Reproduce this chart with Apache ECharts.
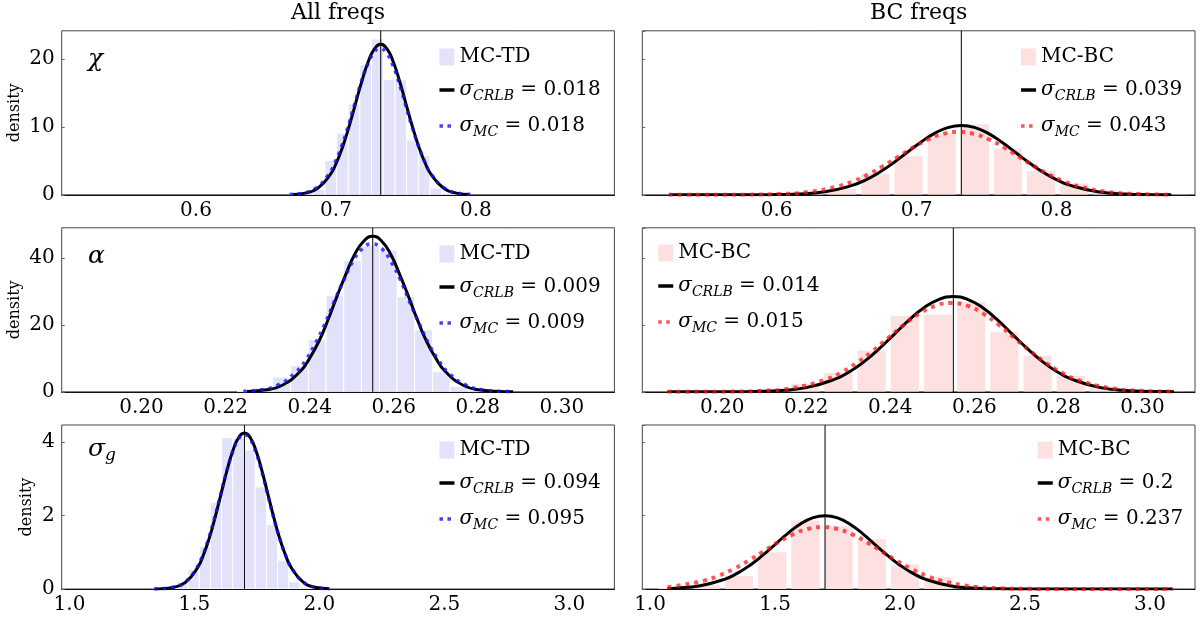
<!DOCTYPE html>
<html>
<head>
<meta charset="utf-8">
<script src="https://cdn.jsdelivr.net/npm/echarts@6/dist/echarts.min.js"></script>
<style>
  html, body { margin: 0; padding: 0; background: #fff; }
  #chart { width: 1203px; height: 617px; }
</style>
</head>
<body>
<div id="chart"></div>
<script>
// ---- values ----
const colTitles = ['All freqs', 'BC freqs'];
const rowSymbols = ['χ', 'α', 'σ_g'];
const histNames = ['MC-TD', 'MC-BC'];
const crlbLabels = [['σ_CRLB = 0.018', 'σ_CRLB = 0.039'], ['σ_CRLB = 0.009', 'σ_CRLB = 0.014'], ['σ_CRLB = 0.094', 'σ_CRLB = 0.2']];
const mcLabels = [['σ_MC = 0.018', 'σ_MC = 0.043'], ['σ_MC = 0.009', 'σ_MC = 0.015'], ['σ_MC = 0.095', 'σ_MC = 0.237']];

const rowMeans = [0.732, 0.255, 1.70];
const rowXMin = [0.504, 0.181, 0.969];
const rowXMax = [0.899, 0.3125, 3.18];
const rowYMax = [24.2, 49.1, 4.46];
const rowYStep = [10, 20, 2];

// chi, all freqs
const chiTdEdges = [0.667, 0.6754, 0.6837, 0.6921, 0.7004, 0.7088, 0.7171, 0.7255, 0.7338, 0.7422, 0.7505, 0.7589, 0.7672, 0.7756, 0.7839, 0.7923];
const chiTdDensity = [0.05, 0.3, 0.8, 5.1, 9.1, 13.4, 19.2, 23.0, 17.0, 17.0, 8.1, 5.8, 1.0, 0.2, 0.05];
const chiTdCrlb = [[0.669, 0.049], [0.678, 0.246], [0.687, 0.975], [0.696, 3.004], [0.7005, 4.802], [0.705, 7.208], [0.7095, 10.163], [0.714, 13.464], [0.7185, 16.757], [0.723, 19.592], [0.7275, 21.516], [0.732, 22.2], [0.7365, 21.516], [0.741, 19.592], [0.7455, 16.757], [0.75, 13.464], [0.7545, 10.163], [0.759, 7.208], [0.7635, 4.802], [0.768, 3.004], [0.777, 0.975], [0.786, 0.246], [0.795, 0.049]];
const chiTdMc = [[0.6668, 0.047], [0.676, 0.24], [0.6853, 0.948], [0.6945, 2.922], [0.6991, 4.672], [0.7038, 7.014], [0.7084, 9.888], [0.713, 13.1], [0.7176, 16.304], [0.7223, 19.062], [0.7269, 20.935], [0.7315, 21.6], [0.7361, 20.935], [0.7408, 19.062], [0.7454, 16.304], [0.75, 13.1], [0.7546, 9.888], [0.7593, 7.014], [0.7639, 4.672], [0.7685, 2.922], [0.7778, 0.948], [0.787, 0.24], [0.7963, 0.047]];

// chi, BC freqs
const chiBcEdges = [0.5165, 0.5402, 0.5639, 0.5876, 0.6113, 0.635, 0.6587, 0.6824, 0.7061, 0.7298, 0.7535, 0.7772, 0.8009, 0.8246, 0.8483, 0.872, 0.8957];
const chiBcDensity = [0.01, 0.02, 0.05, 0.15, 0.5, 0.9, 3.1, 5.7, 9.1, 10.4, 6.8, 3.5, 1.65, 0.6, 0.2, 0.05];
const chiBcCrlb = [[0.523, 0], [0.537, 0], [0.5565, 0.0004], [0.576, 0.0034], [0.5955, 0.022], [0.615, 0.114], [0.6345, 0.449], [0.654, 1.384], [0.6638, 2.213], [0.6735, 3.322], [0.6833, 4.683], [0.693, 6.204], [0.7028, 7.722], [0.7125, 9.028], [0.7223, 9.915], [0.732, 10.23], [0.7418, 9.915], [0.7515, 9.028], [0.7613, 7.722], [0.771, 6.204], [0.7808, 4.683], [0.7905, 3.322], [0.8003, 2.213], [0.81, 1.384], [0.8295, 0.449], [0.849, 0.114], [0.8685, 0.022], [0.882, 0.006]];
const chiBcMc = [[0.523, 0.0001], [0.5365, 0.0004], [0.558, 0.0031], [0.5795, 0.0203], [0.601, 0.103], [0.6225, 0.407], [0.644, 1.256], [0.6548, 2.007], [0.6655, 3.013], [0.6763, 4.248], [0.687, 5.628], [0.6978, 7.005], [0.7085, 8.19], [0.7193, 8.994], [0.73, 9.28], [0.7408, 8.994], [0.7515, 8.19], [0.7623, 7.005], [0.773, 5.628], [0.7838, 4.248], [0.7945, 3.013], [0.8053, 2.007], [0.816, 1.256], [0.8375, 0.407], [0.859, 0.103], [0.882, 0.018]];

// alpha, all freqs
const alphaTdEdges = [0.2228, 0.227, 0.2312, 0.2355, 0.2397, 0.2439, 0.2481, 0.2523, 0.2566, 0.2608, 0.265, 0.2692, 0.2734, 0.2777, 0.2819, 0.2861];
const alphaTdDensity = [0.2, 1.3, 4.4, 7.9, 15.6, 28.8, 39.4, 43.8, 42.5, 28.5, 18.6, 6.0, 1.6, 0.5, 0.15];
const alphaTdCrlb = [[0.225, 0.102], [0.2293, 0.517], [0.2336, 2.046], [0.2379, 6.305], [0.24, 10.08], [0.2422, 15.13], [0.2443, 21.33], [0.2464, 28.26], [0.2486, 35.17], [0.2507, 41.12], [0.2529, 45.16], [0.255, 46.6], [0.2571, 45.16], [0.2593, 41.12], [0.2614, 35.17], [0.2636, 28.26], [0.2657, 21.33], [0.2678, 15.13], [0.27, 10.08], [0.2721, 6.305], [0.2764, 2.046], [0.2807, 0.517], [0.285, 0.102], [0.2884, 0.023]];
const alphaTdMc = [[0.2242, 0.137], [0.2278, 0.492], [0.2323, 1.945], [0.2368, 5.99], [0.2391, 9.582], [0.2413, 14.38], [0.2436, 20.28], [0.2458, 26.87], [0.2481, 33.44], [0.2503, 39.09], [0.2526, 42.94], [0.2548, 44.3], [0.2571, 42.94], [0.2593, 39.09], [0.2616, 33.44], [0.2638, 26.87], [0.2661, 20.28], [0.2683, 14.38], [0.2706, 9.582], [0.2728, 5.99], [0.2773, 1.945], [0.2818, 0.492], [0.2863, 0.097], [0.2883, 0.044]];

// alpha, BC freqs
const alphaBcEdges = [0.1921, 0.2, 0.2079, 0.2158, 0.2237, 0.2316, 0.2395, 0.2474, 0.2553, 0.2632, 0.2711, 0.279, 0.2869, 0.2948, 0.3027, 0.3106];
const alphaBcDensity = [0.05, 0.2, 0.8, 2.4, 5.6, 12.4, 22.8, 23.1, 26.8, 17.8, 10.8, 4.8, 1.7, 0.5, 0.1];
const alphaBcCrlb = [[0.187, 0], [0.192, 0.0011], [0.199, 0.0095], [0.206, 0.0624], [0.213, 0.316], [0.22, 1.251], [0.227, 3.856], [0.2305, 6.165], [0.234, 9.254], [0.2375, 13.05], [0.241, 17.29], [0.2445, 21.51], [0.248, 25.15], [0.2515, 27.62], [0.255, 28.5], [0.2585, 27.62], [0.262, 25.15], [0.2655, 21.51], [0.269, 17.29], [0.2725, 13.05], [0.276, 9.254], [0.2795, 6.165], [0.283, 3.856], [0.29, 1.251], [0.297, 0.316], [0.304, 0.0624], [0.3075, 0.025]];
const alphaBcMc = [[0.187, 0.001], [0.1945, 0.0089], [0.202, 0.0583], [0.2095, 0.295], [0.217, 1.168], [0.2245, 3.599], [0.2283, 5.754], [0.232, 8.637], [0.2358, 12.18], [0.2395, 16.13], [0.2433, 20.08], [0.247, 23.47], [0.2508, 25.78], [0.2545, 26.6], [0.2583, 25.78], [0.262, 23.47], [0.2658, 20.08], [0.2695, 16.13], [0.2733, 12.18], [0.277, 8.637], [0.2808, 5.754], [0.2845, 3.599], [0.292, 1.168], [0.2995, 0.295], [0.3075, 0.05]];

// sigma_g, all freqs
const sigTdEdges = [1.34, 1.3848, 1.4296, 1.4744, 1.5192, 1.564, 1.6088, 1.6536, 1.6984, 1.7432, 1.788, 1.8328, 1.8776, 1.9224, 1.9672, 2.012];
const sigTdDensity = [0.02, 0.05, 0.2, 0.53, 1.16, 2.36, 4.12, 4.1, 3.78, 2.78, 1.75, 0.78, 0.2, 0.05, 0.02];
const sigTdCrlb = [[1.3428, 0.0031], [1.371, 0.0093], [1.418, 0.0471], [1.465, 0.1863], [1.512, 0.5742], [1.5355, 0.918], [1.559, 1.378], [1.5825, 1.943], [1.606, 2.574], [1.6295, 3.203], [1.653, 3.745], [1.6765, 4.113], [1.70, 4.244], [1.7235, 4.113], [1.747, 3.745], [1.7705, 3.203], [1.794, 2.574], [1.8175, 1.943], [1.841, 1.378], [1.8645, 0.918], [1.888, 0.5742], [1.935, 0.1863], [1.982, 0.0471], [2.038, 0.0065]];
const sigTdMc = [[1.338, 0.0031], [1.3665, 0.0092], [1.414, 0.0466], [1.4615, 0.1844], [1.509, 0.5683], [1.5328, 0.908], [1.5565, 1.364], [1.5803, 1.923], [1.604, 2.547], [1.6278, 3.17], [1.6515, 3.707], [1.6753, 4.071], [1.699, 4.2], [1.7228, 4.071], [1.7465, 3.707], [1.7703, 3.17], [1.794, 2.547], [1.8178, 1.923], [1.8415, 1.364], [1.8653, 0.908], [1.889, 0.5683], [1.9365, 0.1844], [1.984, 0.0466], [2.041, 0.0064]];

// sigma_g, BC freqs
const sigBcEdges = [1.023, 1.156, 1.289, 1.422, 1.555, 1.688, 1.821, 1.954, 2.087, 2.22, 2.353, 2.486, 2.619, 2.752, 2.885, 3.018];
const sigBcDensity = [0.03, 0.1, 0.35, 1.0, 1.86, 1.71, 1.35, 0.67, 0.32, 0.1, 0.04, 0.02, 0.01, 0.005, 0.003];
const sigBcCrlb = [[1.07, 0.014], [1.1, 0.0222], [1.2, 0.0876], [1.3, 0.27], [1.35, 0.4315], [1.4, 0.648], [1.45, 0.9133], [1.5, 1.21], [1.55, 1.506], [1.6, 1.761], [1.65, 1.934], [1.7, 1.995], [1.75, 1.934], [1.8, 1.761], [1.85, 1.506], [1.9, 1.21], [1.95, 0.9133], [2.0, 0.648], [2.05, 0.4315], [2.1, 0.27], [2.2, 0.0876], [2.3, 0.0222], [2.4, 0.0044], [2.5, 0.0007], [2.7, 0], [2.9, 0], [3.09, 0]];
const sigBcMc = [[1.07, 0.0545], [1.0975, 0.0739], [1.216, 0.2277], [1.2753, 0.364], [1.3345, 0.5465], [1.3938, 0.7705], [1.453, 1.0207], [1.5123, 1.27], [1.5715, 1.4852], [1.6308, 1.631], [1.69, 1.683], [1.7493, 1.631], [1.8085, 1.4852], [1.8678, 1.27], [1.927, 1.0207], [1.9863, 0.7705], [2.0455, 0.5465], [2.1048, 0.364], [2.164, 0.2277], [2.2825, 0.0739], [2.401, 0.0187], [2.5195, 0.0037], [2.638, 0.0006], [2.875, 0], [3.09, 0]];

// ---- layout / style ----
const SERIF = 'DejaVu Serif';
const GRID_LEFT = [61.7, 642.3];
const GRID_W = 552.7;
const GRID_TOP = [30.8, 227.8, 425];
const GRID_H = 164;
const LEGEND_POS = [[[437.7, 47], [1019.3, 47]], [[437.7, 244], [656.5, 243]], [[437.7, 440], [1036, 440]]];
const X_SPLIT = [4, 6, 4];
const X_DEC = [1, 2, 1];

const FILL = ['#e2e2fa', '#fde1e1'];
const MC_COLOR = ['rgba(20,20,255,0.8)', 'rgba(255,20,20,0.72)'];

const panels = [
  [[chiTdEdges, chiTdDensity, chiTdCrlb, chiTdMc], [chiBcEdges, chiBcDensity, chiBcCrlb, chiBcMc]],
  [[alphaTdEdges, alphaTdDensity, alphaTdCrlb, alphaTdMc], [alphaBcEdges, alphaBcDensity, alphaBcCrlb, alphaBcMc]],
  [[sigTdEdges, sigTdDensity, sigTdCrlb, sigTdMc], [sigBcEdges, sigBcDensity, sigBcCrlb, sigBcMc]]
];

function histRender(gap, edge) {
  return function (params, api) {
    const lo = api.coord([api.value(0), api.value(2)]);
    const hi = api.coord([api.value(1), 0]);
    const w = hi[0] - lo[0];
    return {
      type: 'rect',
      shape: { x: lo[0] + w * gap, y: lo[1], width: w * (1 - 2 * gap), height: hi[1] - lo[1] },
      style: { fill: api.visual('color'), stroke: edge ? '#fff' : null, lineWidth: edge ? 1 : 0 }
    };
  };
}

function legendLabel(name) {
  if (name.indexOf('σ_') === 0) {
    const rest = name.slice(2);
    const sp = rest.indexOf(' ');
    return '{g|σ}{s|' + rest.slice(0, sp) + '}{t|' + rest.slice(sp) + '}';
  }
  return '{t|' + name + '}';
}

const richText = {
  g: { fontFamily: SERIF, fontStyle: 'italic', fontSize: 20, lineHeight: 26, color: '#000' },
  s: { fontFamily: SERIF, fontStyle: 'italic', fontSize: 14, lineHeight: 16, verticalAlign: 'bottom', color: '#000' },
  t: { fontFamily: SERIF, fontSize: 20, lineHeight: 26, color: '#000' }
};

const grid = [], xAxis = [], yAxis = [], series = [], legend = [], graphic = [];

for (let r = 0; r < 3; r++) {
  for (let c = 0; c < 2; c++) {
    const p = r * 2 + c;
    const [edges, dens, crlb, mc] = panels[r][c];
    const dec = X_DEC[r];

    grid.push({
      left: GRID_LEFT[c], top: GRID_TOP[r], width: GRID_W, height: GRID_H,
      show: true, borderColor: '#444', borderWidth: 1, backgroundColor: 'transparent',
      outerBoundsMode: 'none', containLabel: false
    });

    xAxis.push({
      type: 'value', gridIndex: p, min: rowXMin[r], max: rowXMax[r], splitNumber: X_SPLIT[r],
      axisLine: { show: true, onZero: false, lineStyle: { color: '#111', width: 1.2 } },
      axisTick: { show: false },
      splitLine: { show: false },
      axisLabel: {
        show: true, margin: 6, color: '#000', fontFamily: SERIF, fontSize: 20,
        showMinLabel: false, showMaxLabel: false,
        formatter: v => v.toFixed(dec)
      }
    });

    yAxis.push({
      type: 'value', gridIndex: p, min: 0, max: rowYMax[r], interval: rowYStep[r],
      axisLine: { show: false },
      axisTick: { show: true, inside: true, length: 3, lineStyle: { color: '#666', width: 1 } },
      splitLine: { show: false },
      axisLabel: {
        show: c === 0, margin: 7, color: '#000', fontFamily: SERIF, fontSize: 20,
        showMaxLabel: false
      }
    });

    const bins = dens.map((d, i) => [edges[i], edges[i + 1], d]);
    series.push({
      type: 'custom', name: histNames[c], xAxisIndex: p, yAxisIndex: p,
      data: bins, encode: { x: [0, 1], y: 2 }, clip: true, z: 1,
      itemStyle: { color: FILL[c] },
      renderItem: histRender(c === 0 ? 0 : 0.075, c === 0)
    });

    series.push({
      type: 'line', name: 'mean', xAxisIndex: p, yAxisIndex: p, z: 2,
      data: [[rowMeans[r], 0], [rowMeans[r], rowYMax[r]]],
      symbol: 'none', silent: true,
      lineStyle: { color: '#000', width: 1 }
    });

    series.push({
      type: 'line', name: crlbLabels[r][c], xAxisIndex: p, yAxisIndex: p, z: 3,
      data: crlb, smooth: true, symbol: 'none', showSymbol: false, silent: true,
      itemStyle: { color: '#000' },
      lineStyle: { color: '#000', width: 3 }
    });

    series.push({
      type: 'line', name: mcLabels[r][c], xAxisIndex: p, yAxisIndex: p, z: 4,
      data: mc, smooth: true, symbol: 'none', showSymbol: false, silent: true,
      itemStyle: { color: MC_COLOR[c] },
      lineStyle: { color: MC_COLOR[c], width: c === 0 ? 3.5 : 4, type: c === 0 ? [3.5, 5] : [4, 5], cap: 'butt' }
    });

    const [lx, ly] = LEGEND_POS[r][c];
    legend.push({
      orient: 'vertical', left: lx, top: ly, padding: 0, itemGap: 13,
      itemWidth: 15, itemHeight: 17, selectedMode: false,
      formatter: legendLabel,
      textStyle: { fontFamily: SERIF, fontSize: 20, color: '#000', rich: richText },
      data: [
        { name: histNames[c], icon: 'rect', itemStyle: { color: FILL[c] } },
        { name: crlbLabels[r][c], itemStyle: { opacity: 0 }, lineStyle: { color: '#000', width: 3.5, type: 'solid' } },
        { name: mcLabels[r][c], itemStyle: { opacity: 0 }, lineStyle: { color: MC_COLOR[c], width: 3.5, type: [3.5, 4.5], cap: 'butt' } }
      ]
    });
  }

  // row symbol and y label
  const sym = rowSymbols[r];
  graphic.push({
    type: 'text', x: 88, y: GRID_TOP[r] + (r === 2 ? 24 : 28.7),
    style: {
      text: sym.indexOf('_') > 0 ? '{a|σ}{b|g}' : '{a|' + sym + '}',
      rich: {
        a: { fontFamily: SERIF, fontStyle: 'italic', fontSize: 25, lineHeight: 30, color: '#000' },
        b: { fontFamily: SERIF, fontStyle: 'italic', fontSize: 17, lineHeight: 16, verticalAlign: 'bottom', color: '#000' }
      },
      align: 'left', verticalAlign: 'middle'
    }
  });
  graphic.push({
    type: 'text', x: r === 2 ? 27 : 15, y: GRID_TOP[r] + GRID_H / 2, rotation: Math.PI / 2,
    style: { text: 'density', font: '16px "' + SERIF + '"', fill: '#000', align: 'center', verticalAlign: 'middle' }
  });
}

for (let c = 0; c < 2; c++) {
  graphic.push({
    type: 'text', x: GRID_LEFT[c] + GRID_W / 2, y: 13,
    style: { text: colTitles[c], font: '22px "' + SERIF + '"', fill: '#000', align: 'center', verticalAlign: 'middle' }
  });
}

const chart = echarts.init(document.getElementById('chart'), null, { renderer: 'canvas' });
chart.setOption({
  backgroundColor: '#fff',
  animation: false,
  grid, xAxis, yAxis, series, legend, graphic
});
</script>
</body>
</html>
